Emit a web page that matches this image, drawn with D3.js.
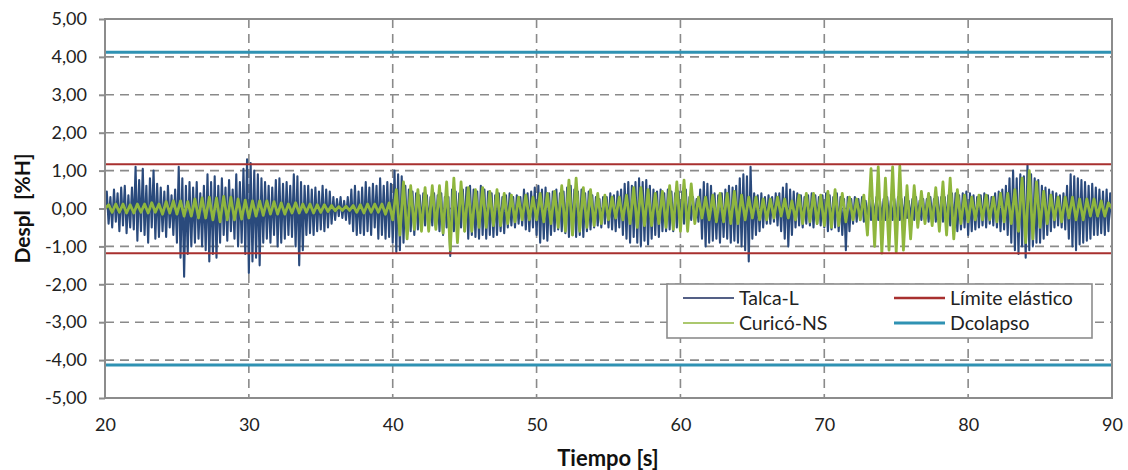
<!DOCTYPE html>
<html><head><meta charset="utf-8">
<script src="https://cdn.jsdelivr.net/npm/d3@7"></script>
<style>body{margin:0;background:#fff}svg{display:block}</style>
</head><body>
<svg id="c" width="1128" height="470"></svg>
<script>
// ---------- DATA ----------
const xTicks = [20,30,40,50,60,70,80,90];
const yTicks = [-5,-4,-3,-2,-1,0,1,2,3,4,5];
const seriesNames = ["Talca-L","Límite elástico","Curicó-NS","Dcolapso"];
const tStart = 20;
const talcaStep = 0.125;   // s between Talca-L samples
const curicoStep = 0.25;   // s between Curicó-NS samples
const limiteElastico = [1.17, -1.18];
const dColapso = [4.12, -4.13];
// Talca-L displacement [%H], one row per second (20 s ... 89 s), then 90 s
const talca = [
0.0,0.45,-0.4,0.3,-0.5,0.5,-0.35,0.4,
-0.6,0.55,-0.45,0.6,-0.65,0.35,-0.5,0.55,
-0.55,1.1,-0.85,0.75,-0.6,1.05,-0.7,0.6,
-0.9,0.8,-0.5,1.0,-0.8,0.65,-0.75,0.55,
-0.6,0.45,-0.75,0.6,-0.5,0.35,-0.7,0.5,
-0.9,1.1,-1.3,0.8,-1.8,0.6,-1.2,0.7,
-1.0,0.55,-0.9,0.7,-0.8,0.4,-1.0,0.6,
-1.1,0.9,-1.4,0.7,-1.2,0.85,-1.3,0.6,
-0.9,0.8,-0.7,0.55,-0.85,0.75,-0.6,0.5,
-0.8,0.9,-1.0,0.7,-0.9,1.05,-1.2,1.3,
-1.7,1.2,-1.4,1.0,-1.3,0.9,-1.5,0.8,
-0.9,0.7,-0.8,0.6,-0.9,0.55,-0.7,0.75,
-1.0,0.8,-0.9,0.65,-0.8,0.7,-0.7,0.6,
-0.75,0.9,-1.0,0.85,-1.5,0.7,-1.1,0.6,
-0.7,0.6,-0.65,0.5,-0.7,0.55,-0.6,0.45,
-0.55,0.6,-0.6,0.5,-0.5,0.45,-0.4,0.3,
-0.3,0.25,-0.2,0.3,-0.25,0.2,-0.3,0.3,
-0.4,0.5,-0.6,0.6,-0.7,0.45,-0.65,0.55,
-0.7,0.7,-0.6,0.55,-0.7,0.65,-0.5,0.6,
-0.8,0.8,-0.7,0.6,-0.8,0.7,-0.75,0.65,
-0.9,1.0,-1.15,0.9,-1.1,0.85,-0.9,0.6,
-0.7,0.5,-0.6,0.45,-0.7,0.4,-0.55,0.35,
-0.5,0.4,-0.45,0.35,-0.5,0.3,-0.45,0.4,
-0.5,0.35,-0.6,0.4,-0.7,0.3,-0.5,0.3,
-1.25,0.5,-0.6,0.45,-0.55,0.4,-0.5,0.5,
-0.6,0.55,-0.8,0.6,-0.7,0.5,-0.75,0.45,
-0.8,0.6,-0.7,0.5,-0.8,0.45,-0.7,0.4,
-0.75,0.35,-0.7,0.4,-0.6,0.3,-0.65,0.35,
-0.5,0.4,-0.45,0.3,-0.5,0.35,-0.4,0.3,
-0.45,0.5,-0.55,0.4,-0.6,0.45,-0.5,0.55,
-0.7,0.6,-0.9,0.5,-0.8,0.55,-0.85,0.4,
-0.7,0.45,-0.6,0.5,-0.55,0.4,-0.6,0.45,
-0.65,0.55,-0.75,0.6,-0.7,0.5,-0.75,0.45,
-0.7,0.5,-0.75,0.4,-0.6,0.45,-0.55,0.35,
-0.5,0.3,-0.45,0.25,-0.5,0.3,-0.4,0.3,
-0.5,0.4,-0.55,0.35,-0.6,0.45,-0.5,0.5,
-0.7,0.65,-0.8,0.7,-0.9,0.6,-0.75,0.7,
-0.9,0.8,-1.0,0.7,-0.85,0.75,-0.95,0.6,
-0.8,0.5,-0.7,0.45,-0.75,0.5,-0.6,0.4,
-0.6,0.5,-0.55,0.45,-0.6,0.4,-0.5,0.45,
-0.5,0.45,-0.4,0.5,-0.45,0.3,-0.3,0.3,
-0.3,0.25,-0.35,0.5,-0.8,0.7,-1.0,0.65,
-0.9,0.6,-0.85,0.4,-0.8,0.35,-0.9,0.4,
-0.75,0.5,-0.8,0.6,-0.9,0.55,-0.85,0.6,
-0.9,0.8,-1.0,0.9,-1.1,0.85,-1.4,1.1,
-0.8,0.4,-0.7,0.35,-0.6,0.4,-0.5,0.3,
-0.4,0.35,-0.4,0.3,-0.35,0.4,-0.45,0.4,
-0.6,0.55,-0.8,0.65,-1.0,0.5,-0.7,0.45,
-0.5,0.4,-0.45,0.35,-0.5,0.3,-0.4,0.35,
-0.45,0.4,-0.5,0.35,-0.4,0.3,-0.45,0.35,
-0.5,0.4,-0.6,0.35,-0.55,0.3,-0.5,0.4,
-0.6,0.3,-0.7,0.25,-1.1,0.3,-0.6,0.25,
-0.4,0.3,-0.35,0.25,-0.3,0.3,-0.35,0.2,
-0.3,0.25,-0.3,0.2,-0.25,0.3,-0.3,0.2,
-0.3,0.25,-0.3,0.3,-0.25,0.2,-0.3,0.25,
-0.35,0.3,-0.3,0.25,-0.35,0.3,-0.25,0.2,
-0.3,0.25,-0.3,0.3,-0.25,0.2,-0.3,0.25,
-0.3,0.25,-0.35,0.3,-0.3,0.25,-0.35,0.3,
-0.4,0.3,-0.35,0.3,-0.4,0.35,-0.45,0.4,
-0.5,0.4,-0.6,0.35,-0.55,0.4,-0.5,0.45,
-0.7,0.4,-0.6,0.35,-0.55,0.3,-0.5,0.35,
-0.45,0.4,-0.5,0.35,-0.4,0.3,-0.45,0.4,
-0.5,0.45,-0.6,0.5,-0.55,0.6,-0.7,0.8,
-0.9,1.0,-1.1,0.8,-1.2,0.9,-1.0,0.85,
-1.3,1.15,-1.1,0.9,-1.0,0.8,-0.9,0.75,
-0.9,0.6,-0.8,0.55,-0.7,0.5,-0.6,0.45,
-0.5,0.4,-0.45,0.35,-0.5,0.4,-0.55,0.6,
-0.8,0.9,-1.0,0.85,-1.1,0.8,-0.95,0.75,
-0.9,0.7,-0.85,0.6,-0.8,0.65,-0.7,0.55,
-0.7,0.5,-0.65,0.45,-0.7,0.5,-0.6,0.4,
-0.3
];
// Curicó-NS displacement [%H], one row per second (20 s ... 89 s), then 90 s
const curico = [
0,0.1,-0.1,0.12,
-0.1,0.12,-0.12,0.1,
-0.12,0.12,-0.1,0.12,
-0.12,0.15,-0.1,0.12,
-0.15,0.18,-0.12,0.2,
-0.15,0.2,-0.2,0.18,
-0.2,0.25,-0.25,0.28,
-0.25,0.3,-0.3,0.28,
-0.35,0.32,-0.3,0.3,
-0.3,0.25,-0.28,0.22,
-0.25,0.2,-0.2,0.2,
-0.18,0.2,-0.15,0.18,
-0.15,0.15,-0.15,0.12,
-0.12,0.15,-0.12,0.12,
-0.1,0.12,-0.12,0.1,
-0.1,0.1,-0.08,0.08,
-0.06,0.05,-0.05,0.06,
-0.05,0.08,-0.1,0.1,
-0.12,0.12,-0.1,0.12,
-0.1,0.12,-0.15,0.15,
-0.3,0.5,-0.7,0.7,
-0.8,0.6,-0.55,0.5,
-0.6,0.55,-0.6,0.6,
-0.55,0.6,-0.65,0.7,
-1.1,0.8,-0.9,0.7,
-0.6,0.55,-0.6,0.5,
-0.5,0.55,-0.5,0.45,
-0.45,0.5,-0.45,0.4,
-0.4,0.35,-0.35,0.3,
-0.3,0.35,-0.3,0.3,
-0.3,0.4,-0.35,0.4,
-0.4,0.45,-0.5,0.6,
-0.6,0.75,-0.7,0.8,
-0.6,0.55,-0.5,0.5,
-0.45,0.4,-0.4,0.35,
-0.3,0.3,-0.25,0.3,
-0.3,0.35,-0.4,0.55,
-0.5,0.55,-0.45,0.5,
-0.45,0.4,-0.4,0.45,
-0.5,0.6,-0.55,0.7,
-0.6,0.75,-0.6,0.65,
-0.4,0.3,-0.25,0.3,
-0.3,0.35,-0.35,0.4,
-0.35,0.4,-0.4,0.45,
-0.4,0.35,-0.3,0.3,
-0.25,0.3,-0.3,0.25,
-0.3,0.25,-0.25,0.3,
-0.2,0.25,-0.25,0.2,
-0.3,0.35,-0.4,0.4,
-0.35,0.4,-0.4,0.35,
-0.45,0.45,-0.5,0.5,
-0.45,0.4,-0.35,0.3,
-0.3,0.25,-0.3,0.35,
-0.7,1.05,-1.0,1.1,
-1.18,0.8,-1.1,1.1,
-1.15,1.12,-1.1,0.6,
-0.8,0.6,-0.5,0.45,
-0.4,0.4,-0.45,0.55,
-0.6,0.7,-0.7,0.8,
-0.8,0.5,-0.4,0.35,
-0.35,0.3,-0.3,0.35,
-0.3,0.35,-0.3,0.3,
-0.35,0.4,-0.35,0.4,
-0.4,0.5,-0.6,0.8,
-0.9,1.0,-0.8,0.7,
-0.5,0.45,-0.4,0.35,
-0.3,0.3,-0.35,0.3,
-0.25,0.3,-0.3,0.25,
-0.3,0.25,-0.2,0.25,
-0.2,0.2,-0.2,0.15,
0
];

// ---------- CHART ----------
const svg = d3.select("#c");
const M = {l:105, r:1112, t:19, b:398};
const x = d3.scaleLinear().domain([20,90]).range([M.l, M.r]);
const y = d3.scaleLinear().domain([-5,5]).range([M.b, M.t]);
const fmt = v => v.toFixed(2).replace(".", ",");
const FONT = "Lato, 'Open Sans', sans-serif";
const GRID = "#8a8a8a";

// gridlines
svg.append("g").selectAll("line").data(yTicks.filter(v => v>-5 && v<5)).join("line")
  .attr("x1", M.l).attr("x2", M.r).attr("y1", d=>y(d)).attr("y2", d=>y(d))
  .attr("stroke", GRID).attr("stroke-width", 1.6).attr("stroke-dasharray", "9,6");
svg.append("g").selectAll("line").data(xTicks.filter(v => v>20 && v<90)).join("line")
  .attr("y1", M.t).attr("y2", M.b).attr("x1", d=>x(d)).attr("x2", d=>x(d))
  .attr("stroke", GRID).attr("stroke-width", 1.6).attr("stroke-dasharray", "9,6");

svg.append("clipPath").attr("id","pc").append("rect")
  .attr("x", M.l).attr("y", M.t).attr("width", M.r-M.l).attr("height", M.b-M.t);

const line = d3.line().x(d=>x(d[0])).y(d=>y(d[1]));
const talcaPts = talca.map((v,i)=>[tStart + i*talcaStep, v]);
const curicoPts = curico.map((v,i)=>[tStart + i*curicoStep, v]);

const plot = svg.append("g").attr("clip-path","url(#pc)");
plot.append("path").datum(talcaPts).attr("d", line)
  .attr("fill","none").attr("stroke","#2a4a7c").attr("stroke-width",2.1).attr("stroke-linejoin","round");
plot.append("path").datum(curicoPts).attr("d", line)
  .attr("fill","none").attr("stroke","#8fb63e").attr("stroke-width",2.8).attr("stroke-linejoin","round");

// horizontal limit lines
plot.selectAll(".lim").data(limiteElastico).join("line").attr("class","lim")
  .attr("x1", M.l).attr("x2", M.r).attr("y1", d=>y(d)).attr("y2", d=>y(d))
  .attr("stroke","#a8302f").attr("stroke-width",2);
plot.selectAll(".col").data(dColapso).join("line").attr("class","col")
  .attr("x1", M.l).attr("x2", M.r).attr("y1", d=>y(d)).attr("y2", d=>y(d))
  .attr("stroke","#2f92b3").attr("stroke-width",3);

// frame
svg.append("rect").attr("x", M.l).attr("y", M.t).attr("width", M.r-M.l).attr("height", M.b-M.t)
  .attr("fill","none").attr("stroke","#8c8c8c").attr("stroke-width",2);

// axes
const yAxis = d3.axisLeft(y).tickValues(yTicks).tickFormat(fmt).tickSize(6).tickPadding(12);
const gy = svg.append("g").attr("transform", `translate(${M.l},0)`).call(yAxis);
gy.select(".domain").remove();
gy.selectAll(".tick line").attr("stroke","#8c8c8c").attr("stroke-width",2);
gy.selectAll(".tick text").attr("font-family", FONT).attr("font-size", 18).attr("fill","#222");

const xAxis = d3.axisBottom(x).tickValues(xTicks).tickFormat(d => String(d)).tickSize(0).tickPadding(20);
const gx = svg.append("g").attr("transform", `translate(0,${M.b})`).call(xAxis);
gx.select(".domain").remove();
gx.selectAll(".tick text").attr("font-family", FONT).attr("font-size", 18).attr("fill","#222");

// axis titles
svg.append("text").attr("transform", `translate(30,${(M.t+M.b)/2}) rotate(-90)`)
  .attr("text-anchor","middle").attr("font-family", FONT).attr("font-weight","bold")
  .attr("font-size",21).attr("fill","#111").attr("xml:space","preserve").text("Despl  [%H]");
svg.append("text").attr("x", 608).attr("y", 466)
  .attr("text-anchor","middle").attr("font-family", FONT).attr("font-weight","bold")
  .attr("font-size",22).attr("fill","#111").text("Tiempo [s]");

// legend
const lg = svg.append("g");
lg.append("rect").attr("x",667).attr("y",284).attr("width",425).attr("height",54)
  .attr("fill","#fff").attr("stroke","#8c8c8c").attr("stroke-width",1.6);
const items = [
  {name: seriesNames[0], color:"#1b2b5e", w:1.6, lx:683, ly:298},
  {name: seriesNames[1], color:"#a8302f", w:2.5, lx:894, ly:298},
  {name: seriesNames[2], color:"#8fb63e", w:1.6, lx:683, ly:323},
  {name: seriesNames[3], color:"#2f92b3", w:3,   lx:894, ly:323}
];
items.forEach(it => {
  lg.append("line").attr("x1",it.lx).attr("x2",it.lx+51).attr("y1",it.ly).attr("y2",it.ly)
    .attr("stroke",it.color).attr("stroke-width",it.w);
  lg.append("text").attr("x",it.lx+56).attr("y",it.ly).attr("dy","0.35em")
    .attr("font-family",FONT).attr("font-size",19.5).attr("fill","#222").text(it.name);
});
</script>
</body></html>
